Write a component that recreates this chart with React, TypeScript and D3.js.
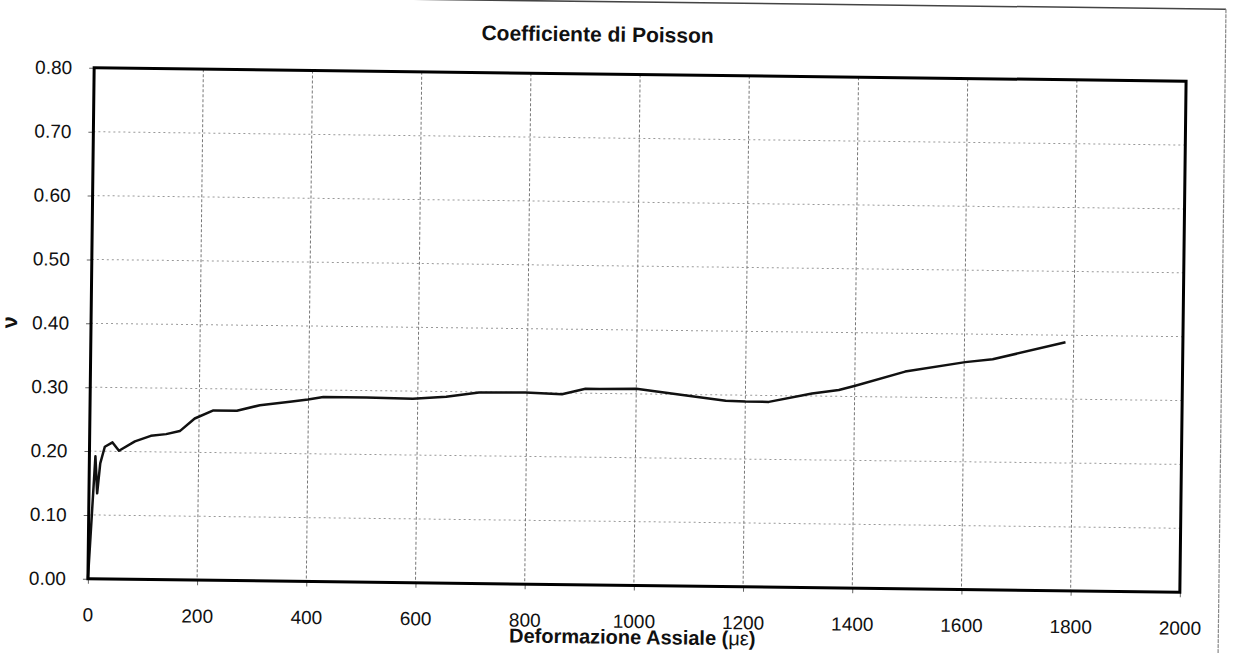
import React, { useEffect, useRef } from 'react';
import * as d3 from 'd3';

// readings taken off the scanned chart
const strain = [0, 11, 15, 20, 28, 42, 54, 83, 112, 140, 165, 192, 226, 269, 311, 366, 399, 427, 506, 591, 652, 712, 797, 864, 907, 933, 1000, 1085, 1164, 1200, 1243, 1322, 1371, 1401, 1492, 1602, 1652, 1785];
const poisson = [0, 0.192, 0.134, 0.181, 0.207, 0.214, 0.201, 0.216, 0.225, 0.228, 0.233, 0.253, 0.266, 0.266, 0.275, 0.281, 0.285, 0.289, 0.289, 0.288, 0.292, 0.299, 0.3, 0.298, 0.307, 0.307, 0.308, 0.299, 0.291, 0.29, 0.29, 0.304, 0.31, 0.317, 0.34, 0.356, 0.361, 0.389];
const xTicks = [0, 200, 400, 600, 800, 1000, 1200, 1400, 1600, 1800, 2000];
const yTicks = [0, 0.1, 0.2, 0.3, 0.4, 0.5, 0.6, 0.7, 0.8];

const FONT = "Arial, 'Liberation Sans', sans-serif";

const App: React.FC = () => {
  const svgRef = useRef<SVGSVGElement>(null);

  useEffect(() => {
    if (!svgRef.current) return;
    document.body.style.margin = '0';

    const width = 1240;
    const height = 653;
    const margin = { top: 74.5, right: 57, bottom: 67.5, left: 91 };
    const innerW = width - margin.left - margin.right;
    const innerH = height - margin.top - margin.bottom;

    const svg = d3.select(svgRef.current);
    svg.selectAll('*').remove();

    svg.append('rect').attr('width', width).attr('height', height).attr('fill', '#fff');

    // the scan is slightly tilted
    const root = svg.append('g').attr('transform', 'rotate(0.7 637 330)');

    // chart area border (partly cut off by the page)
    root.append('line')
      .attr('x1', -20).attr('y1', 2).attr('x2', 1222).attr('y2', 2)
      .attr('stroke', '#444').attr('stroke-width', 1.5);
    root.append('line')
      .attr('x1', 1222).attr('y1', 2).attr('x2', 1222).attr('y2', 700)
      .attr('stroke', '#888').attr('stroke-width', 1.2).attr('stroke-dasharray', '4,1');

    const x = d3.scaleLinear().domain([0, 2000]).range([0, innerW]);
    const y = d3.scaleLinear().domain([0, 0.8]).range([innerH, 0]);

    const g = root.append('g').attr('transform', `translate(${margin.left},${margin.top})`);

    // gridlines
    g.append('g')
      .selectAll('line')
      .data(yTicks.slice(1, -1))
      .join('line')
      .attr('x1', 0).attr('x2', innerW)
      .attr('y1', d => y(d)).attr('y2', d => y(d))
      .attr('stroke', '#999').attr('stroke-width', 1).attr('stroke-dasharray', '2,3');

    g.append('g')
      .selectAll('line')
      .data(xTicks.slice(1, -1))
      .join('line')
      .attr('y1', 0).attr('y2', innerH)
      .attr('x1', d => x(d)).attr('x2', d => x(d))
      .attr('stroke', '#777').attr('stroke-width', 1).attr('stroke-dasharray', '3,2');

    // axes
    const xAxis = g.append('g')
      .attr('transform', `translate(0,${innerH})`)
      .call(d3.axisBottom(x).tickValues(xTicks).tickSize(5).tickPadding(24).tickFormat(d => `${d}`));
    const yAxis = g.append('g')
      .call(d3.axisLeft(y).tickValues(yTicks).tickSize(5).tickPadding(17).tickFormat(d3.format('.2f')));

    [xAxis, yAxis].forEach(a => {
      a.select('.domain').remove();
      a.selectAll('line').attr('stroke', '#666');
      a.selectAll('text').attr('font-family', FONT).attr('font-size', 19).attr('fill', '#111');
    });

    // data line
    const pts = strain.map((s, i) => [s, poisson[i]] as [number, number]);
    const line = d3.line<[number, number]>().x(d => x(d[0])).y(d => y(d[1]));
    g.append('path')
      .datum(pts)
      .attr('fill', 'none')
      .attr('stroke', '#111')
      .attr('stroke-width', 2.5)
      .attr('stroke-linejoin', 'round')
      .attr('d', line);

    // plot frame
    g.append('rect')
      .attr('width', innerW).attr('height', innerH)
      .attr('fill', 'none').attr('stroke', '#000').attr('stroke-width', 3);

    // titles
    root.append('text')
      .attr('x', 594).attr('y', 42)
      .attr('text-anchor', 'middle')
      .attr('font-family', FONT).attr('font-size', 21).attr('font-weight', 'bold')
      .attr('fill', '#111')
      .text('Coefficiente di Poisson');

    const xt = root.append('text')
      .attr('x', 636).attr('y', 644)
      .attr('text-anchor', 'middle')
      .attr('font-family', FONT).attr('font-size', 20).attr('font-weight', 'bold')
      .attr('fill', '#111');
    xt.append('tspan').text('Deformazione Assiale (');
    xt.append('tspan').attr('font-weight', 'normal').text('με');
    xt.append('tspan').text(')');

    root.append('text')
      .attr('transform', 'translate(17,330) rotate(-90)')
      .attr('text-anchor', 'middle')
      .attr('font-family', FONT).attr('font-size', 22).attr('font-weight', 'bold')
      .attr('fill', '#111')
      .text('ν');
  }, []);

  return <svg ref={svgRef} width={1240} height={653} style={{ display: 'block' }} />;
};

export default App;
